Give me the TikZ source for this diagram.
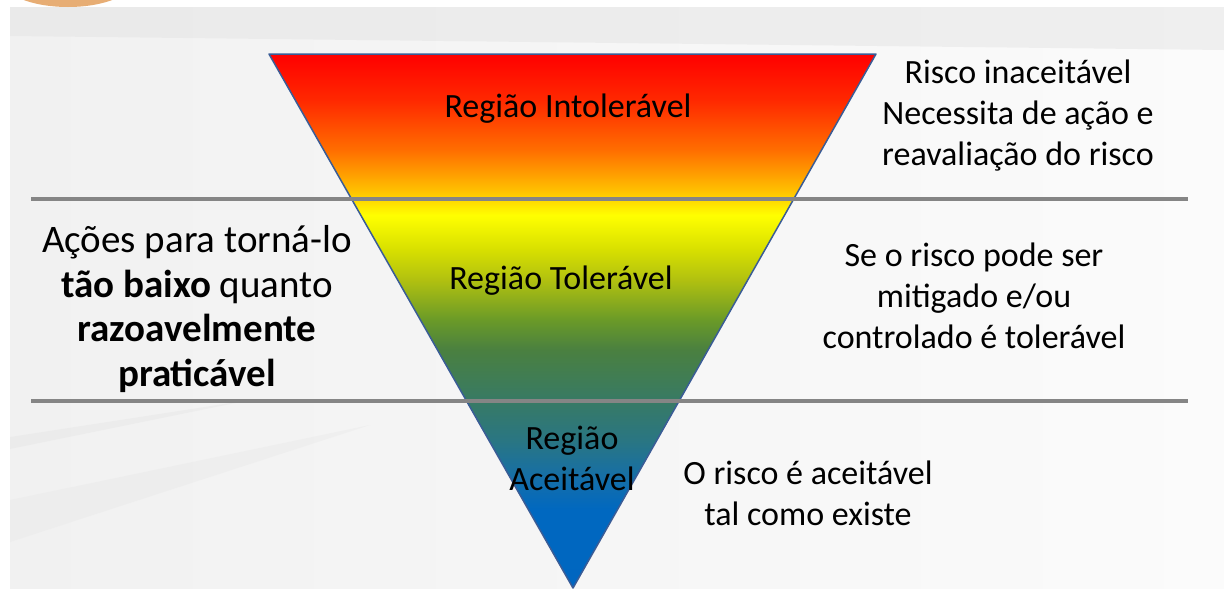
\documentclass[tikz,border=0pt]{standalone}
\usepackage{fontspec}
\setmainfont{Carlito}
\definecolor{gA}{RGB}{255,0,0}
\definecolor{gB}{RGB}{255,40,0}
\definecolor{gC}{RGB}{255,110,0}
\definecolor{gD}{RGB}{255,190,0}
\definecolor{gE}{RGB}{255,255,0}
\definecolor{gF}{RGB}{216,224,0}
\definecolor{gG}{RGB}{176,192,16}
\definecolor{gH}{RGB}{106,154,40}
\definecolor{gI}{RGB}{74,128,64}
\definecolor{gJ}{RGB}{56,122,100}
\definecolor{gK}{RGB}{42,118,130}
\definecolor{gL}{RGB}{20,110,170}
\definecolor{gM}{RGB}{0,104,192}
\definecolor{gN}{RGB}{0,102,192}
\definecolor{triborder}{RGB}{58,92,150}
\definecolor{sepgray}{RGB}{133,133,133}
\definecolor{orangeblob}{RGB}{231,173,116}
\definecolor{panelL}{RGB}{241,241,241}
\definecolor{panelR}{RGB}{251,251,251}
\definecolor{swoosh}{RGB}{228,228,228}
\pgfdeclareverticalshading{riskgrad}{100bp}{%
 color(0bp)=(gN); color(25bp)=(gN); color(32.3bp)=(gM); color(35.1bp)=(gL);
 color(38.9bp)=(gK); color(42.6bp)=(gJ); color(47.3bp)=(gI); color(50.1bp)=(gH);
 color(53.8bp)=(gG); color(56.7bp)=(gF); color(59.9bp)=(gE); color(62.3bp)=(gD);
 color(66bp)=(gC); color(70.7bp)=(gB); color(75bp)=(gA); color(100bp)=(gA)}
\tikzset{
  lbl/.style={font=\fontsize{34}{41}\selectfont, align=center, text=black, inner sep=0pt},
  biglbl/.style={lbl, font=\fontsize{39}{44.5}\selectfont},
  sep/.style={draw=sepgray, line width=4pt},
}
\begin{document}
\begin{tikzpicture}[x=1pt,y=-1pt]
\useasboundingbox (0,0) rectangle (1224,589);
\fill[white] (0,0) rectangle (1224,589);
% background panel
\shade[left color=panelL, right color=panelR] (10,7) rectangle (1224,589);
\fill[swoosh, opacity=0.5] (10,7) -- (1224,7) -- (1224,50) -- (10,36) -- cycle;
\fill[swoosh, opacity=0.4] (10,437) -- (250,400) -- (10,449) -- cycle;
\fill[swoosh, opacity=0.3] (10,500) -- (370,425) -- (10,542) -- cycle;
\fill[orangeblob] (68,-20) ellipse [x radius=66, y radius=27];
% triangle
\coordinate (tl) at (269,54);
\coordinate (tr) at (876,54);
\coordinate (bt) at (573,588);
\path[shading=riskgrad, draw=triborder, line width=1.5pt, line join=round] (tl) -- (tr) -- (bt) -- cycle;
% separators
\coordinate (s1a) at (31,199); \coordinate (s1b) at (1188,199);
\coordinate (s2a) at (31,401); \coordinate (s2b) at (1188,401);
\draw[sep] (s1a) -- (s1b);
\draw[sep] (s2a) -- (s2b);
% labels
\node[lbl] (intol) at (568,109) {Região Intolerável};
\node[lbl] (tol) at (561,281) {Região Tolerável};
\node[lbl] (acc) at (572,458) {Região\\Aceitável};
\node[lbl] (rtop) at (1018,116) {Risco inaceitável\\Necessita de ação e\\reavaliação do risco};
\node[lbl] (rmid) at (974,296) {Se o risco pode ser\\mitigado e/ou\\controlado é tolerável};
\node[lbl] (rbot) at (808,493) {O risco é aceitável\\tal como existe};
\node[biglbl] (left) at (197,309) {Ações para torná-lo\\\textbf{tão baixo} quanto\\\textbf{razoavelmente}\\\textbf{praticável}};
\end{tikzpicture}
\end{document}
